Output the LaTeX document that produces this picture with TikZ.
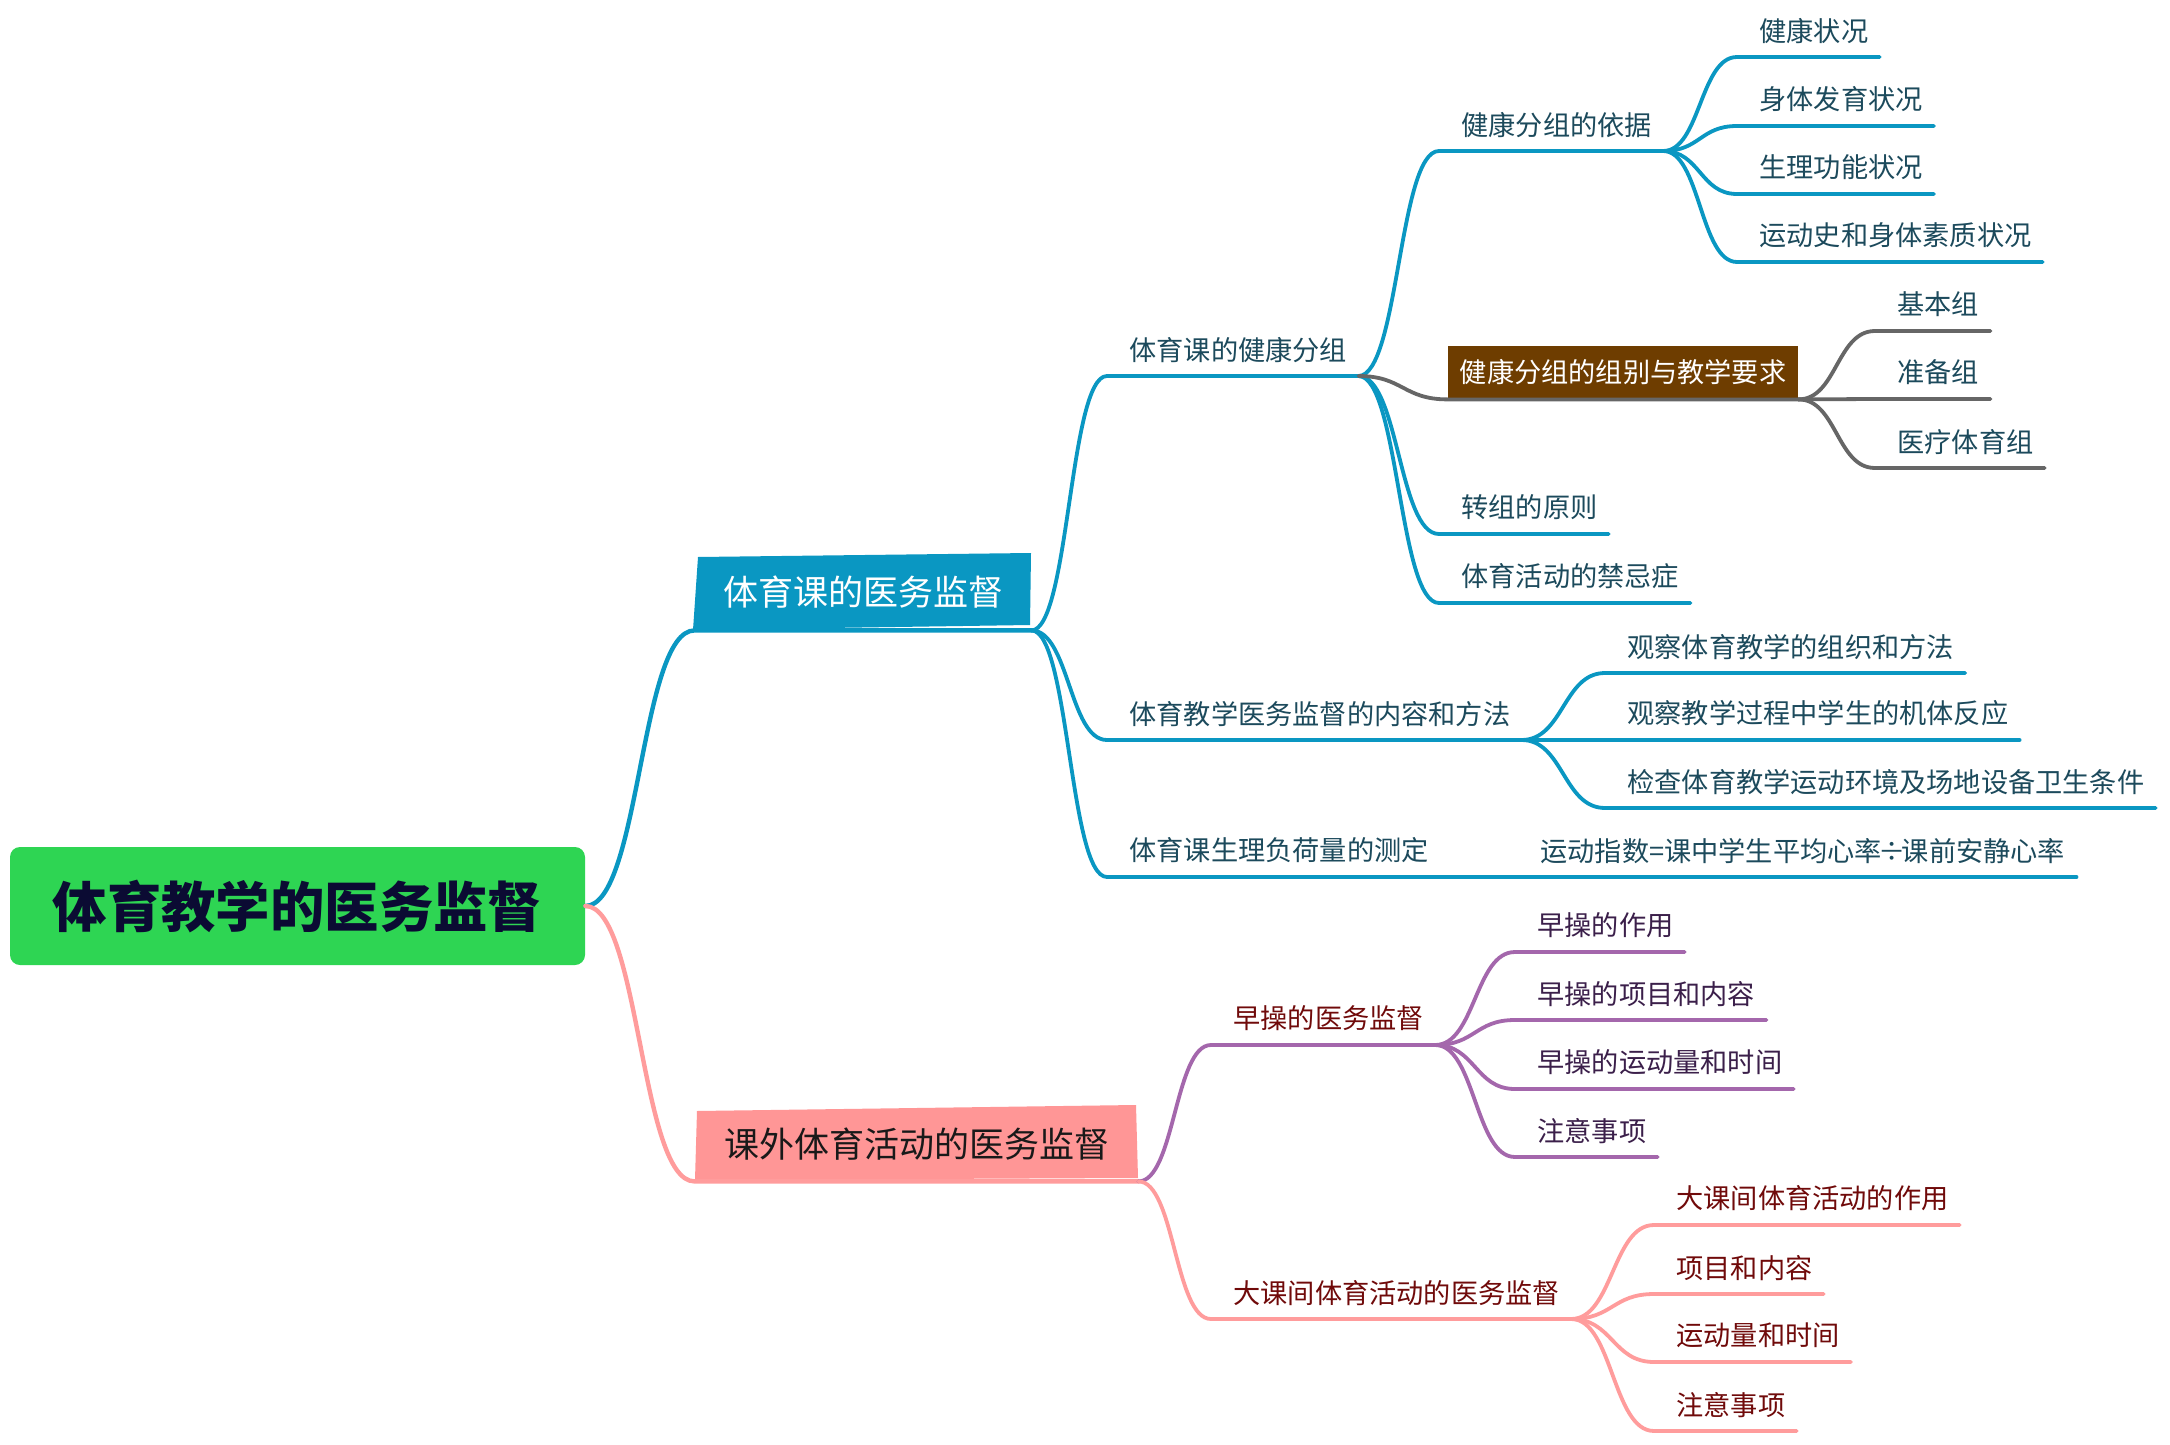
\documentclass[tikz,border=0pt]{standalone}
\usepackage{fontspec}
\setmainfont{Noto Sans CJK SC}
\usetikzlibrary{calc}
\definecolor{bluec}{HTML}{0A97C2}
\definecolor{tealtext}{HTML}{1C4A5C}
\definecolor{purplec}{HTML}{A467AC}
\definecolor{purpletext}{HTML}{3B1F4A}
\definecolor{maroon}{HTML}{700A0A}
\definecolor{pinkc}{HTML}{FF9C9C}
\definecolor{pinkbox}{HTML}{FF9696}
\definecolor{grayc}{HTML}{666666}
\definecolor{brownc}{HTML}{6E3D00}
\definecolor{rootgreen}{HTML}{2ED553}
\definecolor{roottext}{HTML}{0B0B33}
\newcommand\leaffont{\fontsize{13.6pt}{16pt}\selectfont}
\tikzset{
  leaf/.style={anchor=south west, inner xsep=5.5pt, inner ysep=0pt,
    minimum height=26pt, font=\leaffont, text=#1,
    execute at begin node={\hspace*{5.5pt}}},
  mm/.style={to path={let \p1=(\tikztostart), \p2=(\tikztotarget),
      \n1={\x2-\x1} in
      .. controls (\x1+0.5*\n1,\y1) and (\x2-0.5*\n1,\y2) .. (\p2)}},
  cn/.style={draw=#1, line width=1.9pt, line cap=round, line join=round},
  cnmain/.style={draw=#1, line width=2.2pt, line cap=round, line join=round},
  bigbox/.style={minimum height=37pt, inner sep=0pt, font=\fontsize{17.5pt}{20pt}\selectfont},
}
\begin{document}
\begin{tikzpicture}[x=0.5pt,y=-0.5pt]
\path[use as bounding box, fill=white] (0,0) rectangle (2170,1445);

% box backgrounds (slightly irregular shapes)
\fill[bluec] (698,557) -- (1031,553) -- (1030,625) -- (693,630) -- cycle;
\fill[pinkbox] (697,1111) -- (1136,1105) -- (1138,1178) -- (695,1180) -- cycle;

% root and main branches
\node[fill=rootgreen, rounded corners=5pt, minimum width=287.5pt, minimum height=59pt,
  font=\fontsize{27.2pt}{30pt}\selectfont\bfseries, text=roottext, inner sep=0pt]
  (root) at (297.5,906) {体育教学的医务监督};
\node[bigbox, minimum width=168pt, minimum height=38pt, text=white] (b1) at (863,592) {体育课的医务监督};
\node[bigbox, minimum width=221.5pt, text=black!90] (b2) at (916.5,1144) {课外体育活动的医务监督};

% level 2 (blue)
\node[leaf=tealtext] (A) at (1107,376) {体育课的健康分组};
\node[leaf=tealtext] (B) at (1107,740) {体育教学医务监督的内容和方法};
\node[leaf=tealtext] (C) at (1107,877) {体育课生理负荷量的测定};
\node[leaf=tealtext] (C1) at (1518,877) {运动指数=课中学生平均心率\kern-1.8pt÷\kern-1.8pt课前安静心率};

\node[leaf=tealtext] (A1) at (1439,151) {健康分组的依据};
\node[fill=brownc, minimum width=175pt, minimum height=26.5pt, inner sep=0pt,
  font=\leaffont, text=white] (A2) at (1623,372.5) {健康分组的组别与教学要求};
\node[leaf=tealtext] (A3) at (1439,534) {转组的原则};
\node[leaf=tealtext] (A4) at (1439,603) {体育活动的禁忌症};

\node[leaf=tealtext] (A1a) at (1737,57) {健康状况};
\node[leaf=tealtext] (A1b) at (1737,126) {身体发育状况};
\node[leaf=tealtext] (A1c) at (1737,194) {生理功能状况};
\node[leaf=tealtext] (A1d) at (1737,262) {运动史和身体素质状况};

\node[leaf=tealtext] (A2a) at (1875,331) {基本组};
\node[leaf=tealtext] (A2b) at (1875,399) {准备组};
\node[leaf=tealtext] (A2c) at (1875,468) {医疗体育组};

\node[leaf=tealtext] (Ba) at (1605,673) {观察体育教学的组织和方法};
\node[leaf=tealtext] (Bb) at (1605,740) {观察教学过程中学生的机体反应};
\node[leaf=tealtext] (Bc) at (1605,808) {检查体育教学运动环境及场地设备卫生条件};

% pink branch
\node[leaf=maroon] (D) at (1211,1045) {早操的医务监督};
\node[leaf=maroon] (E) at (1211,1319) {大课间体育活动的医务监督};

\node[leaf=purpletext] (Da) at (1515,952) {早操的作用};
\node[leaf=purpletext] (Db) at (1515,1020) {早操的项目和内容};
\node[leaf=purpletext] (Dc) at (1515,1089) {早操的运动量和时间};
\node[leaf=purpletext] (Dd) at (1515,1157) {注意事项};

\node[leaf=maroon] (Ea) at (1654,1225) {大课间体育活动的作用};
\node[leaf=maroon] (Eb) at (1654,1294) {项目和内容};
\node[leaf=maroon] (Ec) at (1654,1362) {运动量和时间};
\node[leaf=maroon] (Ed) at (1654,1431) {注意事项};

% connectors
\draw[cnmain=bluec] (root.east) to[mm] (b1.south west) -- (b1.south east);
\draw[cnmain=pinkc] (root.east) to[mm] (b2.south west) -- (b2.south east);

\foreach \k in {A,B,C}
  \draw[cn=bluec] (b1.south east) to[mm] (\k.south west) -- (\k.south east);
\draw[cn=bluec] (C.south east) -- (C1.south west) -- (C1.south east);

\foreach \k in {A1,A3,A4}
  \draw[cn=bluec] (A.south east) to[mm] (\k.south west) -- (\k.south east);
\draw[cn=grayc] (A.south east) to[mm] (A2.south west) -- (A2.south east);

\foreach \k in {A1a,A1b,A1c,A1d}
  \draw[cn=bluec] (A1.south east) to[mm] (\k.south west) -- (\k.south east);
\foreach \k in {A2a,A2b,A2c}
  \draw[cn=grayc] (A2.south east) to[mm] (\k.south west) -- (\k.south east);
\foreach \k in {Ba,Bb,Bc}
  \draw[cn=bluec] (B.south east) to[mm] (\k.south west) -- (\k.south east);

\draw[cn=purplec] (b2.south east) to[mm] (D.south west) -- (D.south east);
\draw[cn=pinkc] (b2.south east) to[mm] (E.south west) -- (E.south east);
\foreach \k in {Da,Db,Dc,Dd}
  \draw[cn=purplec] (D.south east) to[mm] (\k.south west) -- (\k.south east);
\foreach \k in {Ea,Eb,Ec,Ed}
  \draw[cn=pinkc] (E.south east) to[mm] (\k.south west) -- (\k.south east);
\end{tikzpicture}
\end{document}
